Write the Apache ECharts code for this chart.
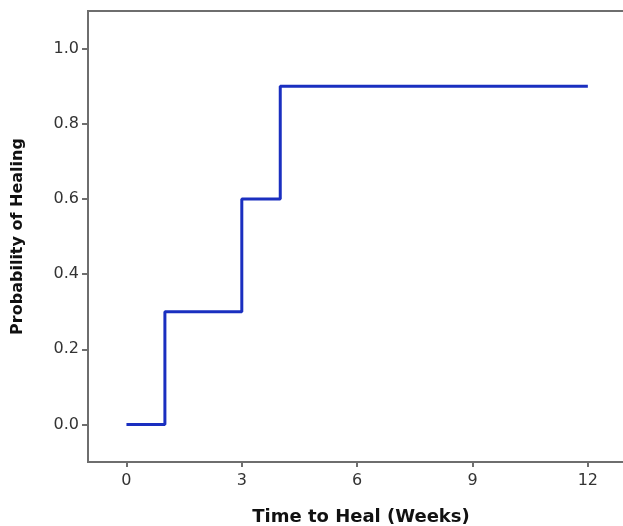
<!DOCTYPE html>
<html>
<head>
<meta charset="utf-8">
<script src="https://cdn.jsdelivr.net/npm/echarts@6/dist/echarts.min.js"></script>
<style>html,body{margin:0;padding:0;background:#fff;}#c{width:623px;height:526px;}</style>
</head>
<body>
<div id="c"></div>
<script>
const weeks = [0, 1, 3, 4, 12];
const probability = [0.0, 0.3, 0.6, 0.9, 0.9];
const xTicks = [0, 3, 6, 9, 12];
const yTicks = [0, 0.2, 0.4, 0.6, 0.8, 1.0];

const chart = echarts.init(document.getElementById('c'));
chart.setOption({
  animation: false,
  grid: { left: 88, top: 11, right: -11, bottom: 64, outerBoundsMode: 'none', containLabel: false,
    show: true, borderColor: '#6e6e6e', borderWidth: 2, backgroundColor: '#fff' },
  xAxis: {
    type: 'value', min: -1, max: 13.2,
    name: 'Time to Heal (Weeks)', nameLocation: 'middle', nameGap: 46,
    nameTextStyle: { fontFamily: 'DejaVu Sans', fontWeight: 'bold', fontSize: 18, color: '#111' },
    axisLine: { show: true, onZero: false, lineStyle: { color: '#6e6e6e', width: 2 } },
    axisTick: { show: true, length: 5, customValues: xTicks, lineStyle: { color: '#6e6e6e', width: 2 } },
    axisLabel: { customValues: xTicks, margin: 11, fontFamily: 'DejaVu Sans', fontSize: 16, color: '#333' },
    splitLine: { show: false }
  },
  yAxis: {
    type: 'value', min: -0.1, max: 1.1,
    name: 'Probability of Healing', nameLocation: 'middle', nameGap: 62, nameRotate: 90,
    nameTextStyle: { fontFamily: 'DejaVu Sans', fontWeight: 'bold', fontSize: 16, color: '#111' },
    axisLine: { show: true, onZero: false, lineStyle: { color: '#6e6e6e', width: 2 } },
    axisTick: { show: true, length: 6, customValues: yTicks, lineStyle: { color: '#6e6e6e', width: 2 } },
    axisLabel: { customValues: yTicks, margin: 9, fontFamily: 'DejaVu Sans', fontSize: 16, color: '#333',
      formatter: v => v.toFixed(1) },
    splitLine: { show: false }
  },
  series: [{
    type: 'line', step: 'end', symbol: 'none',
    data: weeks.map((w, i) => [w, probability[i]]),
    lineStyle: { color: '#1a2fc0', width: 3 }
  }]
});
</script>
</body>
</html>
